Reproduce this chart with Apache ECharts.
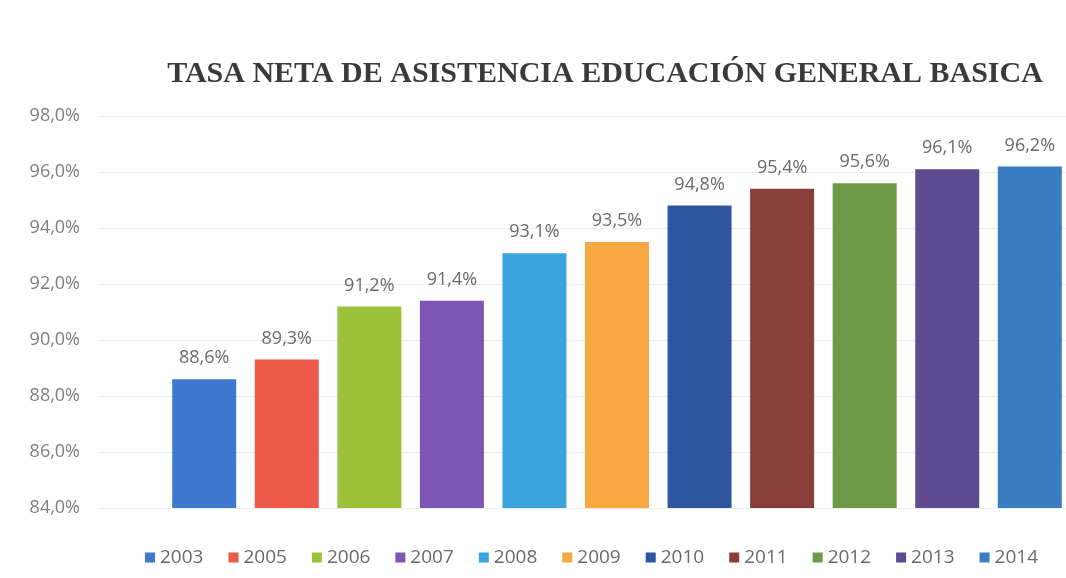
<!DOCTYPE html>
<html>
<head>
<meta charset="utf-8">
<script src="https://cdn.jsdelivr.net/npm/echarts@6/dist/echarts.min.js"></script>
<style>html,body{margin:0;padding:0;background:#fff}#c{width:1066px;height:578px}</style>
</head>
<body>
<div id="c"></div>
<script>
const years = ['2003','2005','2006','2007','2008','2009','2010','2011','2012','2013','2014'];
const values = [88.6, 89.3, 91.2, 91.4, 93.1, 93.5, 94.8, 95.4, 95.6, 96.1, 96.2];
const colors = ['#3E78D0','#EE5A4A','#9CC23A','#7D55B5','#3AA4DE','#F7A843','#2D55A0','#8A3E3A','#6E9A48','#5E4A8E','#3A7DC0'];
const yTicks = {min: 84, max: 98, interval: 2};

const fmt = v => v.toFixed(1).replace('.', ',') + '%';
const splitStyle = {lineStyle: {color: '#ececec'}};
const chart = echarts.init(document.getElementById('c'));
chart.setOption({
  animation: false,
  backgroundColor: '#fff',
  title: {
    text: 'TASA NETA DE ASISTENCIA EDUCACIÓN GENERAL BASICA',
    left: 600, top: 54, textAlign: 'center',
    textStyle: {fontFamily: 'Liberation Serif', fontWeight: 'bold', fontSize: 30, color: '#3a3a3a'}
  },
  legend: {
    bottom: 6, left: 140, itemWidth: 10, itemHeight: 10, itemGap: 25,
    icon: 'rect',
    textStyle: {fontFamily: 'Open Sans', fontSize: 19, color: '#6a6a6a'},
    data: years
  },
  grid: [
    {left: 168, right: 0, top: 116, bottom: 70},
    {left: 100, width: 68, top: 116, bottom: 70}
  ],
  xAxis: [
    {type: 'category', data: [''], gridIndex: 0,
     axisLine: {show: false}, axisTick: {show: false}, axisLabel: {show: false}},
    {type: 'category', data: [''], gridIndex: 1,
     axisLine: {show: false}, axisTick: {show: false}, axisLabel: {show: false}}
  ],
  yAxis: [
    {type: 'value', gridIndex: 0, min: yTicks.min, max: yTicks.max, interval: yTicks.interval,
     axisLabel: {show: false}, splitLine: splitStyle,
     axisLine: {show: false}, axisTick: {show: false}},
    {type: 'value', gridIndex: 1, min: yTicks.min, max: yTicks.max, interval: yTicks.interval,
     axisLabel: {formatter: fmt, fontFamily: 'Open Sans', fontSize: 18, color: '#7a7e84', margin: 20},
     splitLine: splitStyle, axisLine: {show: false}, axisTick: {show: false}}
  ],
  series: years.map((y, i) => ({
    name: y, type: 'bar', data: [values[i]], xAxisIndex: 0, yAxisIndex: 0,
    barWidth: 64, barGap: '29%',
    itemStyle: {color: colors[i]},
    label: {show: true, position: 'top', distance: 12, formatter: p => fmt(p.value),
      fontFamily: 'Open Sans', fontSize: 18, color: '#6a6a6a'}
  }))
});
</script>
</body>
</html>
